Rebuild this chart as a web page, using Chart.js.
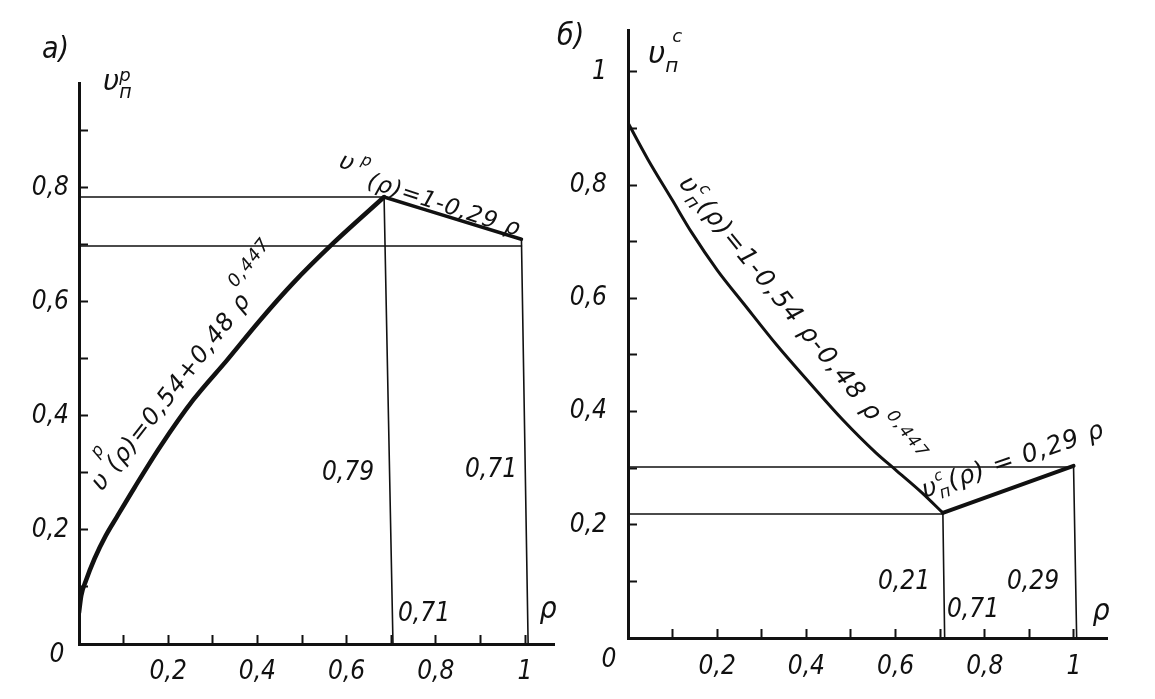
<!DOCTYPE html>
<html>
<head>
<meta charset="utf-8">
<script src="https://cdn.jsdelivr.net/npm/chart.js@4.4.1/dist/chart.umd.min.js"></script>
<style>
body{margin:0;background:#fff;width:1155px;height:699px;overflow:hidden;position:relative}
canvas{position:absolute;top:0}
#chartA{left:0}
#chartB{left:540px}
</style>
</head>
<body>
<canvas id="chartA" width="580" height="699"></canvas>
<canvas id="chartB" width="615" height="699"></canvas>
<script>
// panel a) - curve v^p(rho) and straight part 1-0,29 rho
var rhoA  = [0, 0.005, 0.015, 0.035, 0.06, 0.085, 0.125, 0.182, 0.256, 0.332, 0.406, 0.48, 0.57, 0.684];
var vA    = [0.055, 0.085, 0.11, 0.15, 0.19, 0.223, 0.275, 0.346, 0.428, 0.498, 0.568, 0.633, 0.703, 0.784];
var rhoA2 = [0.684, 0.992];
var vA2   = [0.784, 0.71];
// thin helper lines of a): pairs of rho and pairs of v
var guideRhoA = [[0, 0.684], [0, 0.992], [0.684, 0.704], [0.992, 1.007]];
var guideVA   = [[0.784, 0.784], [0.698, 0.698], [0.784, 0], [0.71, 0]];

// panel б) - curve v^c(rho) and straight part 0,29 rho
var rhoB  = [0, 0.045, 0.099, 0.143, 0.2, 0.26, 0.334, 0.408, 0.482, 0.556, 0.6, 0.66, 0.706];
var vB    = [0.91, 0.845, 0.774, 0.716, 0.65, 0.59, 0.517, 0.45, 0.385, 0.327, 0.297, 0.256, 0.221];
var rhoB2 = [0.706, 0.999];
var vB2   = [0.221, 0.304];
var guideRhoB = [[0, 0.999], [0, 0.706], [0.706, 0.71], [0.999, 1.006]];
var guideVB   = [[0.302, 0.302], [0.219, 0.219], [0.221, 0], [0.304, 0]];

// tick labels
var xTicks  = [0.2, 0.4, 0.6, 0.8, 1];
var xLabels = ['0,2', '0,4', '0,6', '0,8', '1'];
var yTicksA  = [0.2, 0.4, 0.6, 0.8];
var yLabelsA = ['0,2', '0,4', '0,6', '0,8'];
var yTicksB  = [0.2, 0.4, 0.6, 0.8, 1];
var yLabelsB = ['0,2', '0,4', '0,6', '0,8', '1'];

var FONT = '"Liberation Sans Narrow", "DejaVu Sans Condensed", "DejaVu Sans", sans-serif';
var FORM = '"DejaVu Sans", sans-serif';
var INK = '#111';

function pts(xs, ys) {
	return xs.map(function(x, i) { return {x: x, y: ys[i]}; });
}

function lineSet(data, w) {
	return {data: data, borderColor: INK, borderWidth: w, pointRadius: 0, fill: false,
		cubicInterpolationMode: 'monotone', borderCapStyle: 'round', borderJoinStyle: 'round'};
}

function tickCb(ticks, labels, nMinor) {
	return function(v) {
		for (var i = 0; i < ticks.length; i++) {
			if (Math.abs(ticks[i] - v) < 1e-6) return labels[i];
		}
		var k = Math.round(v * 10);
		if (k >= 1 && k <= nMinor && Math.abs(v - k / 10) < 1e-6) return '';
		return null;
	};
}

function fixSize(prop, val) {
	return function(scale) {
		scale[prop] = val;
		scale.paddingTop = 0; scale.paddingBottom = 0;
		scale.paddingLeft = 0; scale.paddingRight = 0;
	};
}

// free text (labels, formulas) drawn on the canvas
var textPlugin = {
	id: 'texts',
	afterDraw: function(chart, args, opts) {
		var ctx = chart.ctx;
		ctx.save();
		ctx.fillStyle = INK;
		opts.items.forEach(function(it) {
			ctx.save();
			ctx.translate(it.x - opts.offset, it.y);
			ctx.rotate((it.a || 0) * Math.PI / 180);
			ctx.letterSpacing = (it.ls || 0) + 'px';
			ctx.textBaseline = 'alphabetic';
			var cx = 0;
			if (it.c) {
				var tw = 0;
				it.p.forEach(function(p) {
					ctx.font = 'italic ' + p[1] + 'px ' + (it.f || FONT);
					tw += ctx.measureText(p[0]).width;
				});
				cx = -tw / 2;
			}
			it.p.forEach(function(p) {
				ctx.font = 'italic ' + p[1] + 'px ' + (it.f || FONT);
				ctx.fillText(p[0], cx, -(p[2] || 0));
				if (p[3] !== false) cx += ctx.measureText(p[0]).width;
			});
			ctx.restore();
		});
		ctx.restore();
	}
};

function makeChart(id, o) {
	var sets = [lineSet(pts(o.rho, o.v), o.wCurve), lineSet(pts(o.rho2, o.v2), o.wSeg)];
	o.gRho.forEach(function(g, i) {
		sets.push(lineSet(pts(g, o.gV[i]), 1.6));
	});
	return new Chart(document.getElementById(id), {
		type: 'line',
		data: {datasets: sets},
		plugins: [textPlugin],
		options: {
			responsive: false,
			animation: false,
			events: [],
			layout: {padding: o.pad},
			plugins: {legend: {display: false}, tooltip: {enabled: false},
				texts: {items: o.texts, offset: o.offset}},
			scales: {
				x: {
					type: 'linear', min: 0, max: o.xMax,
					afterFit: fixSize('height', o.xH),
					border: {display: true, color: INK, width: 3},
					grid: {drawOnChartArea: false, drawTicks: true, tickLength: -9, tickWidth: 2, tickColor: INK},
					ticks: {stepSize: 0.1, includeBounds: false, autoSkip: false, maxRotation: 0,
						padding: o.xPad, color: INK,
						font: {family: FONT, size: 26, style: 'italic'},
						callback: tickCb(xTicks, xLabels, 10)}
				},
				y: {
					type: 'linear', min: 0, max: o.yMax,
					afterFit: fixSize('width', o.yW),
					border: {display: true, color: INK, width: 3},
					grid: {drawOnChartArea: false, drawTicks: true, tickLength: -9, tickWidth: 2, tickColor: INK},
					ticks: {stepSize: 0.1, includeBounds: false, autoSkip: false,
						padding: o.yPad, color: INK,
						font: {family: FONT, size: 26, style: 'italic'},
						callback: tickCb(o.yTicks, o.yLabels, o.yMinor)}
				}
			}
		}
	});
}

makeChart('chartA', {
	rho: rhoA, v: vA, rho2: rhoA2, v2: vA2, gRho: guideRhoA, gV: guideVA,
	wCurve: 4.5, wSeg: 3.5,
	xMax: 1.065, yMax: 0.984, xH: 55, yW: 79, xPad: 22, yPad: 19,
	pad: {top: 83, right: 26, left: 0, bottom: 0},
	yTicks: yTicksA, yLabels: yLabelsA, yMinor: 9,
	offset: 0,
	texts: [
		{x: 42, y: 58, p: [['a)', 30]]},
		{x: 103, y: 90, f: FORM, p: [['υ', 28], ['п', 19, -8, false], ['р', 18, 9]]},
		{x: 338, y: 167, a: 18, f: FORM, p: [['υ', 24], [' ', 20], ['р', 16, 10]]},
		{x: 366, y: 187, a: 18, f: FORM, ls: 1, p: [['(ρ)=1-0,29 ρ', 23]]},
		{x: 102, y: 492, a: -52, f: FORM, ls: 1, p: [['υ', 25], [' ', 24], ['р', 17, 24, false], ['(ρ)=0,54+0,48 ρ', 24], ['0,447', 18, 20]]},
		{x: 348, y: 480, c: true, p: [['0,79', 26]]},
		{x: 491, y: 477, c: true, p: [['0,71', 26]]},
		{x: 424, y: 621, c: true, p: [['0,71', 26]]},
		{x: 548, y: 618, c: true, p: [['ρ', 30]]},
		{x: 57, y: 662, c: true, p: [['0', 26]]}
	]
});

makeChart('chartB', {
	rho: rhoB, v: vB, rho2: rhoB2, v2: vB2, gRho: guideRhoB, gV: guideVB,
	wCurve: 3, wSeg: 4,
	xMax: 1.074, yMax: 1.074, xH: 61, yW: 88, xPad: 23, yPad: 30,
	pad: {top: 30, right: 48, left: 0, bottom: 0},
	yTicks: yTicksB, yLabels: yLabelsB, yMinor: 10,
	offset: 540,
	texts: [
		{x: 557, y: 45, p: [['б)', 30]]},
		{x: 648, y: 63, f: FORM, p: [['υ', 30], ['п', 20, -9, false], [' ', 22], ['с', 18, 21]]},
		{x: 678, y: 184, a: 51, f: FORM, ls: 1.5, p: [['υ', 26], ['с', 16, 13, false], ['п', 18, -6], ['(ρ)=1-0,54 ρ-0,48 ρ', 25], [' ', 6], ['0,447', 17, 16]]},
		{x: 925, y: 498, a: -19, f: FORM, ls: 1, p: [['υ', 25], ['с', 15, 12, false], ['п', 17, -6], ['(ρ) = 0,29 ρ', 25]]},
		{x: 904, y: 589, c: true, p: [['0,21', 26]]},
		{x: 1033, y: 589, c: true, p: [['0,29', 26]]},
		{x: 973, y: 617, c: true, p: [['0,71', 26]]},
		{x: 1101, y: 620, c: true, p: [['ρ', 30]]},
		{x: 609, y: 667, c: true, p: [['0', 26]]}
	]
});
</script>
</body>
</html>
